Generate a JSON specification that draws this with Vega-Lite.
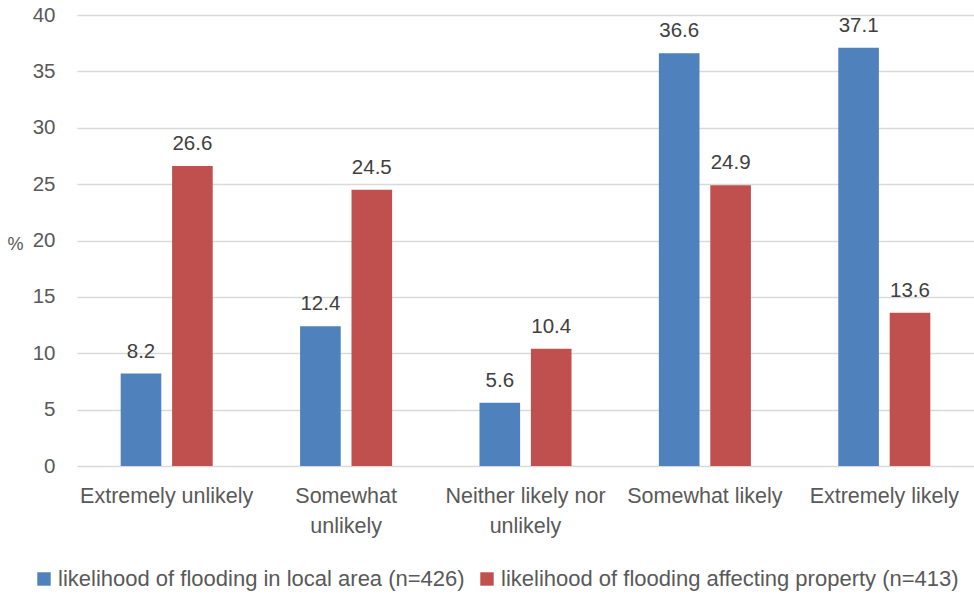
{
  "$schema": "https://vega.github.io/schema/vega-lite/v6.json",
  "width": 897,
  "height": 451,
  "autosize": "none",
  "padding": {"left": 77, "top": 15, "right": 0, "bottom": 129},
  "background": "white",
  "config": {
    "view": {"stroke": null},
    "font": "Liberation Sans",
    "axis": {"labelFont": "Liberation Sans", "labelColor": "#595959", "titleColor": "#595959"},
    "legend": {"labelFont": "Liberation Sans", "labelColor": "#595959"}
  },
  "data": {
    "values": [
      {"category": "Extremely unlikely", "series": "likelihood of flooding in local area (n=426)", "value": 8.2},
      {"category": "Extremely unlikely", "series": "likelihood of flooding affecting property (n=413)", "value": 26.6},
      {"category": "Somewhat unlikely", "series": "likelihood of flooding in local area (n=426)", "value": 12.4},
      {"category": "Somewhat unlikely", "series": "likelihood of flooding affecting property (n=413)", "value": 24.5},
      {"category": "Neither likely nor unlikely", "series": "likelihood of flooding in local area (n=426)", "value": 5.6},
      {"category": "Neither likely nor unlikely", "series": "likelihood of flooding affecting property (n=413)", "value": 10.4},
      {"category": "Somewhat likely", "series": "likelihood of flooding in local area (n=426)", "value": 36.6},
      {"category": "Somewhat likely", "series": "likelihood of flooding affecting property (n=413)", "value": 24.9},
      {"category": "Extremely likely", "series": "likelihood of flooding in local area (n=426)", "value": 37.1},
      {"category": "Extremely likely", "series": "likelihood of flooding affecting property (n=413)", "value": 13.6}
    ]
  },
  "encoding": {
    "x": {
      "field": "category",
      "type": "nominal",
      "sort": null,
      "scale": {"paddingInner": 0.487, "paddingOuter": 0.2435},
      "axis": {
        "title": null,
        "labelAngle": 0,
        "labelFontSize": 21.5,
        "labelPadding": 30,
        "labelLineHeight": 30,
        "labelBaseline": "middle",
        "ticks": false,
        "domain": false,
        "labelExpr": "datum.value == 'Somewhat unlikely' ? ['Somewhat', 'unlikely'] : datum.value == 'Neither likely nor unlikely' ? ['Neither likely nor', 'unlikely'] : datum.value"
      }
    },
    "xOffset": {
      "field": "series",
      "type": "nominal",
      "sort": null,
      "scale": {"paddingInner": 0.21, "paddingOuter": 0}
    },
    "y": {
      "field": "value",
      "type": "quantitative",
      "scale": {"domain": [0, 40]},
      "axis": {
        "title": "%",
        "titleAngle": 0,
        "titleFontSize": 18,
        "titleFontWeight": "normal",
        "titleX": -62,
        "titleY": 229,
        "titleAlign": "center",
        "titleBaseline": "middle",
        "values": [0, 5, 10, 15, 20, 25, 30, 35, 40],
        "labelOverlap": false,
        "labelFontSize": 20.5,
        "labelPadding": 22,
        "ticks": false,
        "domain": false,
        "gridColor": "#d9d9d9",
        "gridWidth": 1.5
      }
    },
    "color": {
      "field": "series",
      "type": "nominal",
      "sort": null,
      "scale": {"range": ["#4f81bd", "#c0504d"]},
      "legend": {
        "title": null,
        "orient": "none",
        "legendX": -44,
        "legendY": 553,
        "direction": "horizontal",
        "symbolType": "square",
        "symbolSize": 180,
        "symbolStrokeWidth": 0,
        "labelFontSize": 22,
        "labelLimit": 600,
        "labelOffset": 3,
        "columnPadding": 11,
        "symbolOffset": 0
      }
    }
  },
  "layer": [
    {"mark": {"type": "bar"}},
    {
      "mark": {"type": "text", "baseline": "bottom", "dy": -12, "fontSize": 20.5, "color": "#404040"},
      "encoding": {
        "text": {"field": "value", "type": "quantitative", "format": ".1f"},
        "color": {"value": "#404040"}
      }
    }
  ]
}
